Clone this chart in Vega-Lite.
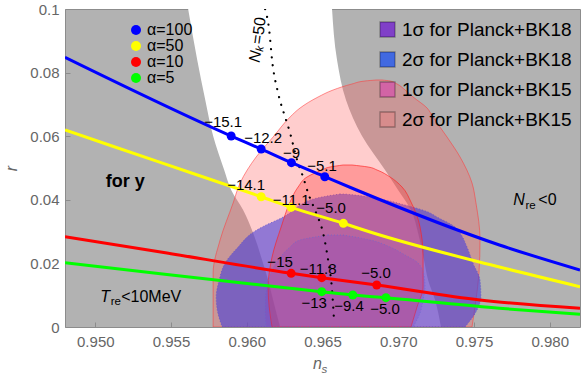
{
  "$schema": "https://vega.github.io/schema/vega-lite/v6.json",
  "width": 515,
  "height": 318,
  "autosize": {"type": "none"},
  "padding": {"left": 65, "top": 9, "right": 1, "bottom": 54},
  "view": {"fill": "#b2b2b2", "stroke": "#8c8c8c", "strokeWidth": 1},
  "config": {
    "font": "Liberation Sans",
    "view": {"fill": "#b2b2b2", "stroke": "#8c8c8c", "strokeWidth": 1}
  },
  "datasets": {
    "band": [
      {"r": 0, "ns": 0.9622, "ns2": 0.97282},
      {"r": 0.00849, "ns": 0.96174, "ns2": 0.97243},
      {"r": 0.01478, "ns": 0.96141, "ns2": 0.97197},
      {"r": 0.02107, "ns": 0.96101, "ns2": 0.9717},
      {"r": 0.02956, "ns": 0.96042, "ns2": 0.97131},
      {"r": 0.03679, "ns": 0.95976, "ns2": 0.97084},
      {"r": 0.04308, "ns": 0.95897, "ns2": 0.96999},
      {"r": 0.04937, "ns": 0.95851, "ns2": 0.96913},
      {"r": 0.06006, "ns": 0.95778, "ns2": 0.96761},
      {"r": 0.07138, "ns": 0.95726, "ns2": 0.96655},
      {"r": 0.08396, "ns": 0.95673, "ns2": 0.96596},
      {"r": 0.1, "ns": 0.95613, "ns2": 0.96563}
    ],
    "contours": [
      {"region": "bk15_2", "r": 0, "ns": 0.95778, "ns2": 0.97487},
      {"region": "bk15_2", "r": 0.00849, "ns": 0.95778, "ns2": 0.97513},
      {"region": "bk15_2", "r": 0.01698, "ns": 0.95778, "ns2": 0.97533},
      {"region": "bk15_2", "r": 0.02736, "ns": 0.95824, "ns2": 0.9754},
      {"region": "bk15_2", "r": 0.03899, "ns": 0.9591, "ns2": 0.97513},
      {"region": "bk15_2", "r": 0.04528, "ns": 0.95956, "ns2": 0.97487},
      {"region": "bk15_2", "r": 0.05346, "ns": 0.96062, "ns2": 0.97408},
      {"region": "bk15_2", "r": 0.05975, "ns": 0.96174, "ns2": 0.97322},
      {"region": "bk15_2", "r": 0.06604, "ns": 0.96286, "ns2": 0.97229},
      {"region": "bk15_2", "r": 0.06887, "ns": 0.96352, "ns2": 0.9719},
      {"region": "bk15_2", "r": 0.07233, "ns": 0.96471, "ns2": 0.97098},
      {"region": "bk15_2", "r": 0.07453, "ns": 0.9657, "ns2": 0.97045},
      {"region": "bk15_2", "r": 0.07642, "ns": 0.96695, "ns2": 0.96992},
      {"region": "bk15_2", "r": 0.07736, "ns": 0.96781, "ns2": 0.96946},
      {"region": "bk15_2", "r": 0.07767, "ns": 0.96854, "ns2": 0.96893},
      {"region": "bk18_2", "r": 0, "ns": 0.95838, "ns2": 0.97441},
      {"region": "bk18_2", "r": 0.00535, "ns": 0.95805, "ns2": 0.9752},
      {"region": "bk18_2", "r": 0.00943, "ns": 0.95798, "ns2": 0.97546},
      {"region": "bk18_2", "r": 0.01478, "ns": 0.95818, "ns2": 0.9754},
      {"region": "bk18_2", "r": 0.02013, "ns": 0.95857, "ns2": 0.97493},
      {"region": "bk18_2", "r": 0.02516, "ns": 0.95943, "ns2": 0.97454},
      {"region": "bk18_2", "r": 0.02956, "ns": 0.96035, "ns2": 0.97408},
      {"region": "bk18_2", "r": 0.03145, "ns": 0.96101, "ns2": 0.97375},
      {"region": "bk18_2", "r": 0.03459, "ns": 0.9624, "ns2": 0.97256},
      {"region": "bk18_2", "r": 0.03616, "ns": 0.96293, "ns2": 0.97197},
      {"region": "bk18_2", "r": 0.03836, "ns": 0.96352, "ns2": 0.97045},
      {"region": "bk18_2", "r": 0.04057, "ns": 0.96464, "ns2": 0.96847},
      {"region": "bk18_2", "r": 0.04151, "ns": 0.9657, "ns2": 0.96715},
      {"region": "bk18_2", "r": 0.04182, "ns": 0.96616, "ns2": 0.96649},
      {"region": "bk15_1", "r": 0, "ns": 0.96167, "ns2": 0.97084},
      {"region": "bk15_1", "r": 0.00629, "ns": 0.96148, "ns2": 0.97124},
      {"region": "bk15_1", "r": 0.01258, "ns": 0.96141, "ns2": 0.97164},
      {"region": "bk15_1", "r": 0.02201, "ns": 0.96167, "ns2": 0.97164},
      {"region": "bk15_1", "r": 0.03145, "ns": 0.96227, "ns2": 0.97144},
      {"region": "bk15_1", "r": 0.03931, "ns": 0.96286, "ns2": 0.97084},
      {"region": "bk15_1", "r": 0.04403, "ns": 0.96339, "ns2": 0.97025},
      {"region": "bk15_1", "r": 0.04717, "ns": 0.96398, "ns2": 0.96946},
      {"region": "bk15_1", "r": 0.04937, "ns": 0.96497, "ns2": 0.9686},
      {"region": "bk15_1", "r": 0.05031, "ns": 0.9655, "ns2": 0.96801},
      {"region": "bk15_1", "r": 0.05094, "ns": 0.96636, "ns2": 0.96695},
      {"region": "bk18_1", "r": 0, "ns": 0.96128, "ns2": 0.97098},
      {"region": "bk18_1", "r": 0.0044, "ns": 0.96121, "ns2": 0.97144},
      {"region": "bk18_1", "r": 0.00849, "ns": 0.96121, "ns2": 0.97164},
      {"region": "bk18_1", "r": 0.01258, "ns": 0.96134, "ns2": 0.97177},
      {"region": "bk18_1", "r": 0.01635, "ns": 0.96154, "ns2": 0.9717},
      {"region": "bk18_1", "r": 0.02013, "ns": 0.96194, "ns2": 0.97131},
      {"region": "bk18_1", "r": 0.02264, "ns": 0.96233, "ns2": 0.97045},
      {"region": "bk18_1", "r": 0.02516, "ns": 0.96286, "ns2": 0.96946},
      {"region": "bk18_1", "r": 0.02736, "ns": 0.96352, "ns2": 0.96814},
      {"region": "bk18_1", "r": 0.0283, "ns": 0.96451, "ns2": 0.96715},
      {"region": "bk18_1", "r": 0.02893, "ns": 0.96537, "ns2": 0.96636}
    ],
    "nk": [
      {"ns": 0.96121, "r": 0.1},
      {"ns": 0.96148, "r": 0.0934},
      {"ns": 0.96167, "r": 0.08396},
      {"ns": 0.96207, "r": 0.07358},
      {"ns": 0.96253, "r": 0.06604},
      {"ns": 0.96286, "r": 0.06101},
      {"ns": 0.96332, "r": 0.05252},
      {"ns": 0.96372, "r": 0.04717},
      {"ns": 0.96405, "r": 0.04214},
      {"ns": 0.96458, "r": 0.03585},
      {"ns": 0.96504, "r": 0.02956},
      {"ns": 0.96537, "r": 0.02107},
      {"ns": 0.96563, "r": 0.01164},
      {"ns": 0.96576, "r": 0.0022}
    ],
    "lines": [
      {"curve": "100", "ns": 0.948, "r": 0.0848},
      {"curve": "100", "ns": 0.95897, "r": 0.06006},
      {"curve": "100", "ns": 0.96095, "r": 0.05597},
      {"curve": "100", "ns": 0.96295, "r": 0.05167},
      {"curve": "100", "ns": 0.96515, "r": 0.04726},
      {"curve": "100", "ns": 0.96724, "r": 0.04308},
      {"curve": "100", "ns": 0.97668, "r": 0.02579},
      {"curve": "100", "ns": 0.982, "r": 0.01792},
      {"curve": "50", "ns": 0.948, "r": 0.06195},
      {"curve": "50", "ns": 0.95429, "r": 0.05176},
      {"curve": "50", "ns": 0.96095, "r": 0.04097},
      {"curve": "50", "ns": 0.96293, "r": 0.03764},
      {"curve": "50", "ns": 0.96638, "r": 0.03261},
      {"curve": "50", "ns": 0.96814, "r": 0.02987},
      {"curve": "50", "ns": 0.97668, "r": 0.01887},
      {"curve": "50", "ns": 0.982, "r": 0.01267},
      {"curve": "10", "ns": 0.948, "r": 0.0284},
      {"curve": "10", "ns": 0.95473, "r": 0.02327},
      {"curve": "10", "ns": 0.96293, "r": 0.01689},
      {"curve": "10", "ns": 0.96495, "r": 0.0155},
      {"curve": "10", "ns": 0.96858, "r": 0.01321},
      {"curve": "10", "ns": 0.97539, "r": 0.00849},
      {"curve": "10", "ns": 0.982, "r": 0.00588},
      {"curve": "5", "ns": 0.948, "r": 0.02022},
      {"curve": "5", "ns": 0.95473, "r": 0.01648},
      {"curve": "5", "ns": 0.96495, "r": 0.0111},
      {"curve": "5", "ns": 0.967, "r": 0.01006},
      {"curve": "5", "ns": 0.96919, "r": 0.00921},
      {"curve": "5", "ns": 0.97668, "r": 0.00588},
      {"curve": "5", "ns": 0.982, "r": 0.004}
    ],
    "points": [
      {"series": "α=100", "ns": 0.95897, "r": 0.06006},
      {"series": "α=100", "ns": 0.96095, "r": 0.05597},
      {"series": "α=100", "ns": 0.96295, "r": 0.05167},
      {"series": "α=100", "ns": 0.96515, "r": 0.04726},
      {"series": "α=50", "ns": 0.96095, "r": 0.04097},
      {"series": "α=50", "ns": 0.96293, "r": 0.03764},
      {"series": "α=50", "ns": 0.96638, "r": 0.03261},
      {"series": "α=10", "ns": 0.96293, "r": 0.01689},
      {"series": "α=10", "ns": 0.96495, "r": 0.0155},
      {"series": "α=10", "ns": 0.96858, "r": 0.01321},
      {"series": "α=5", "ns": 0.96495, "r": 0.0111},
      {"series": "α=5", "ns": 0.967, "r": 0.01006},
      {"series": "α=5", "ns": 0.96919, "r": 0.00921}
    ],
    "ptlabels": [
      {"label": "−15.1", "ns": 0.95844, "r": 0.06447},
      {"label": "−12.2", "ns": 0.96108, "r": 0.05943},
      {"label": "−9", "ns": 0.96295, "r": 0.05472},
      {"label": "−5.1", "ns": 0.96497, "r": 0.05063},
      {"label": "−14.1", "ns": 0.95996, "r": 0.04465},
      {"label": "−11.1", "ns": 0.96293, "r": 0.03994},
      {"label": "−5.0", "ns": 0.96557, "r": 0.03742},
      {"label": "−15", "ns": 0.9622, "r": 0.02044},
      {"label": "−11.8", "ns": 0.96471, "r": 0.01824},
      {"label": "−5.0", "ns": 0.96853, "r": 0.01698},
      {"label": "−13", "ns": 0.96445, "r": 0.00755},
      {"label": "−9.4", "ns": 0.96675, "r": 0.0066},
      {"label": "−5.0", "ns": 0.96913, "r": 0.00566}
    ],
    "notesItalic": [
      {"text": "T", "ns": 0.95033, "r": 0.00796},
      {"text": "N", "ns": 0.97759, "r": 0.03836}
    ],
    "notesSub": [
      {"text": "re", "ns": 0.95102, "r": 0.00692},
      {"text": "re", "ns": 0.9784, "r": 0.03711}
    ],
    "notesMain": [
      {"text": "<10MeV", "ns": 0.95171, "r": 0.00796},
      {"text": "<0", "ns": 0.97925, "r": 0.03836}
    ],
    "notesBold": [
      {"text": "for y", "ns": 0.95198, "r": 0.0456}
    ],
    "axisN": [
      {"text": "n", "ns": 0.96438, "r": -0.01321}
    ],
    "axisS": [
      {"text": "s", "ns": 0.96494, "r": -0.01447}
    ],
    "nkN": [
      {"text": "N", "ns": 0.96062, "r": 0.0868}
    ],
    "nkK": [
      {"text": "k", "ns": 0.96062, "r": 0.0868}
    ],
    "nkRest": [
      {"text": "=50", "ns": 0.96062, "r": 0.0868}
    ],
    "regions": [
      {"region": "1σ for Planck+BK18"},
      {"region": "2σ for Planck+BK18"},
      {"region": "1σ for Planck+BK15"},
      {"region": "2σ for Planck+BK15"}
    ]
  },
  "encoding": {
    "x": {"field": "ns", "type": "quantitative",
          "scale": {"domain": [0.948, 0.982], "nice": false, "zero": false},
          "axis": {"values": [0.95, 0.955, 0.96, 0.965, 0.97, 0.975, 0.98], "format": ".3f", "grid": false, "domain": false,
                   "tickSize": -5, "tickColor": "#8c8c8c", "labelColor": "#666666", "labelFontSize": 15,
                   "labelPadding": 12, "title": null}},
    "y": {"field": "r", "type": "quantitative",
          "scale": {"domain": [0, 0.1], "nice": false, "zero": false},
          "axis": {"values": [0, 0.02, 0.04, 0.06, 0.08, 0.1], "format": ".2~f", "grid": false, "domain": false,
                   "tickSize": -5, "tickColor": "#8c8c8c", "labelColor": "#666666", "labelFontSize": 15,
                   "labelPadding": 11, "title": "r", "titleFontStyle": "italic", "titleFontWeight": "normal",
                   "titleColor": "#666666", "titleFontSize": 16, "titlePadding": 10}}
  },
  "layer": [
    {
      "data": {"name": "band"},
      "mark": {"type": "area", "orient": "horizontal", "fill": "#ffffff", "interpolate": "monotone", "clip": true},
      "encoding": {"x2": {"field": "ns2"}}
    },
    {
      "data": {"name": "contours"},
      "transform": [{"filter": "datum.region == 'bk15_2'"}],
      "mark": {"type": "area", "orient": "horizontal", "interpolate": "monotone", "clip": true,
               "fill": "#ff5858", "fillOpacity": 0.3, "stroke": "#ff3c3c", "strokeWidth": 0.8, "strokeOpacity": 0.7},
      "encoding": {"x2": {"field": "ns2"}}
    },
    {
      "data": {"name": "contours"},
      "transform": [{"filter": "datum.region == 'bk18_2'"}],
      "mark": {"type": "area", "orient": "horizontal", "interpolate": "monotone", "clip": true,
               "fill": "#4a40d8", "fillOpacity": 0.6, "stroke": "#5a50c8", "strokeWidth": 0.9, "strokeDash": [1, 2], "strokeOpacity": 0.8},
      "encoding": {"x2": {"field": "ns2"}}
    },
    {
      "data": {"name": "contours"},
      "transform": [{"filter": "datum.region == 'bk15_1'"}],
      "mark": {"type": "area", "orient": "horizontal", "interpolate": "monotone", "clip": true,
               "fill": "#ff4040", "fillOpacity": 0.35, "stroke": "#ff2020", "strokeWidth": 0.8, "strokeOpacity": 0.8},
      "encoding": {"x2": {"field": "ns2"}}
    },
    {
      "data": {"name": "contours"},
      "transform": [{"filter": "datum.region == 'bk18_1'"}],
      "mark": {"type": "area", "orient": "horizontal", "interpolate": "monotone", "clip": true,
               "fill": "#8040c8", "fillOpacity": 0.25, "stroke": "#6a6ad0", "strokeWidth": 0.9, "strokeDash": [1, 2], "strokeOpacity": 0.8},
      "encoding": {"x2": {"field": "ns2"}}
    },
    {
      "data": {"name": "nk"},
      "mark": {"type": "line", "interpolate": "monotone", "color": "#000000", "strokeWidth": 2.2,
               "strokeDash": [0.1, 8], "strokeCap": "round", "clip": true},
      "encoding": {}
    },
    {
      "data": {"name": "lines"},
      "mark": {"type": "line", "interpolate": "monotone", "strokeWidth": 3, "clip": true},
      "encoding": {
        "stroke": {"field": "curve", "type": "nominal",
                   "scale": {"domain": ["100", "50", "10", "5"], "range": ["#0000ff", "#ffff00", "#ff0000", "#00ff00"]},
                   "legend": null}
      }
    },
    {
      "data": {"name": "points"},
      "mark": {"type": "point", "shape": "circle", "filled": true, "opacity": 1, "size": 80},
      "encoding": {
        "color": {"field": "series", "type": "nominal",
                  "scale": {"domain": ["α=100", "α=50", "α=10", "α=5"], "range": ["#0000ff", "#ffff00", "#ff0000", "#00ff00"]},
                  "legend": {"orient": "none", "legendX": 63, "legendY": 13, "title": null, "symbolType": "circle",
                             "symbolSize": 100, "symbolStrokeWidth": 0, "labelFontSize": 16, "labelColor": "#000000",
                             "labelFont": "Liberation Sans", "rowPadding": 0, "labelOffset": 3, "padding": 0}}
      }
    },
    {
      "data": {"name": "ptlabels"},
      "mark": {"type": "text", "fontSize": 15, "color": "#000000", "align": "center", "baseline": "middle"},
      "encoding": {"text": {"field": "label"}}
    },
    {
      "data": {"name": "notesItalic"},
      "mark": {"type": "text", "fontSize": 16, "fontStyle": "italic", "color": "#000000", "align": "left", "baseline": "alphabetic"},
      "encoding": {"text": {"field": "text"}}
    },
    {
      "data": {"name": "notesSub"},
      "mark": {"type": "text", "fontSize": 11.5, "color": "#000000", "align": "left", "baseline": "alphabetic"},
      "encoding": {"text": {"field": "text"}}
    },
    {
      "data": {"name": "notesMain"},
      "mark": {"type": "text", "fontSize": 16, "color": "#000000", "align": "left", "baseline": "alphabetic"},
      "encoding": {"text": {"field": "text"}}
    },
    {
      "data": {"name": "notesBold"},
      "mark": {"type": "text", "fontSize": 18, "fontWeight": "bold", "color": "#000000", "align": "center", "baseline": "middle"},
      "encoding": {"text": {"field": "text"}}
    },
    {
      "data": {"name": "axisN"},
      "mark": {"type": "text", "fontSize": 16, "fontStyle": "italic", "color": "#666666", "align": "left", "baseline": "alphabetic"},
      "encoding": {"text": {"field": "text"}}
    },
    {
      "data": {"name": "axisS"},
      "mark": {"type": "text", "fontSize": 11.5, "fontStyle": "italic", "color": "#666666", "align": "left", "baseline": "alphabetic"},
      "encoding": {"text": {"field": "text"}}
    },
    {
      "data": {"name": "nkN"},
      "mark": {"type": "text", "fontSize": 16, "fontStyle": "italic", "color": "#000000", "align": "right", "baseline": "middle", "angle": 278},
      "encoding": {"text": {"field": "text"}}
    },
    {
      "data": {"name": "nkK"},
      "mark": {"type": "text", "fontSize": 11, "fontStyle": "italic", "color": "#000000", "align": "left", "baseline": "middle", "angle": 278, "dx": 0, "dy": 4},
      "encoding": {"text": {"field": "text"}}
    },
    {
      "data": {"name": "nkRest"},
      "mark": {"type": "text", "fontSize": 16, "color": "#000000", "align": "left", "baseline": "middle", "angle": 278, "dx": 7},
      "encoding": {"text": {"field": "text"}}
    },
    {
      "data": {"name": "regions"},
      "mark": {"type": "point", "shape": "square", "filled": true, "opacity": 0},
      "encoding": {
        "x": {"value": 0},
        "y": {"value": 0},
        "fill": {"field": "region", "type": "nominal",
                 "scale": {"domain": ["1σ for Planck+BK18", "2σ for Planck+BK18", "1σ for Planck+BK15", "2σ for Planck+BK15"],
                           "range": ["#8040c8", "#4169e1", "#d264a5", "#d78c8c"]},
                 "legend": {"orient": "none", "legendX": 313, "legendY": 11, "title": null, "symbolType": "square",
                            "symbolSize": 225, "symbolOpacity": 1, "symbolStrokeColor": "rgba(0,0,0,0.3)", "symbolStrokeWidth": 1.3,
                            "labelFontSize": 19, "labelColor": "#000000", "labelFont": "Liberation Sans", "labelLimit": 300,
                            "rowPadding": 9, "labelOffset": 5, "padding": 0}}
      }
    }
  ]
}
